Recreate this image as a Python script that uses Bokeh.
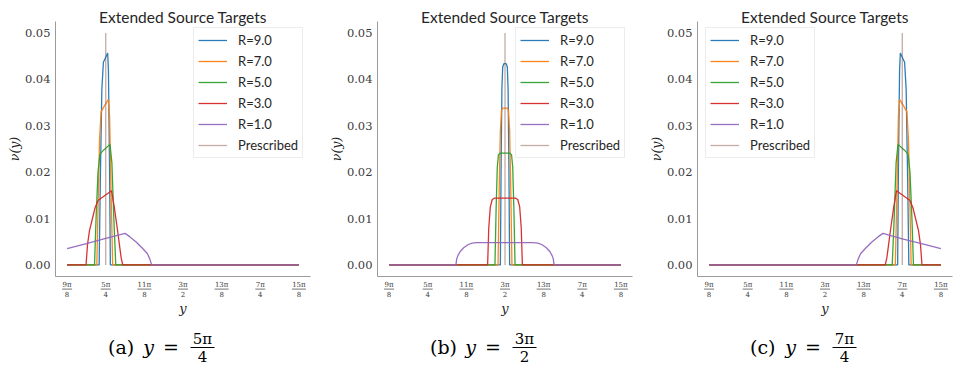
import math
from bokeh.plotting import figure
from bokeh.models import Range1d
from bokeh.layouts import row
from bokeh.embed import file_html
from bokeh.resources import INLINE
from bokeh.core.properties import value

# ---------------- data (x in units of pi/8) ----------------
tick_vals = [9, 10, 11, 12, 13, 14, 15]
tick_nums = ["9π", "5π", "11π", "3π", "13π", "7π", "15π"]
tick_dens = ["8", "4", "8", "2", "8", "4", "8"]
y_ticks = [0.0, 0.01, 0.02, 0.03, 0.04, 0.05]
y_tick_labels = ["0.00", "0.01", "0.02", "0.03", "0.04", "0.05"]

series_names = ["R=9.0", "R=7.0", "R=5.0", "R=3.0", "R=1.0", "Prescribed"]
series_colors = ["#1f77b4", "#ff7f0e", "#2ca02c", "#d62728", "#9467bd", "#8c564b"]

# panel (a): target 5pi/4
a_r9_x = [9.0, 9.83, 9.86, 9.90, 9.94, 10.05, 10.07, 10.10, 10.12, 15.0]
a_r9_y = [0, 0, 0.018, 0.038, 0.0437, 0.0457, 0.042, 0.02, 0, 0]
a_r7_x = [9.0, 9.77, 9.80, 9.84, 9.88, 9.98, 10.07, 10.10, 10.14, 10.18, 15.0]
a_r7_y = [0, 0, 0.012, 0.027, 0.033, 0.0345, 0.0357, 0.032, 0.015, 0, 0]
a_r5_x = [9.0, 9.71, 9.75, 9.80, 9.85, 9.95, 10.11, 10.16, 10.21, 10.26, 15.0]
a_r5_y = [0, 0, 0.010, 0.020, 0.0239, 0.0248, 0.026, 0.022, 0.010, 0, 0]
a_r3_x = [9.0, 9.49, 9.53, 9.58, 9.65, 9.72, 9.80, 10.15, 10.22, 10.30, 10.36, 10.40, 10.44, 15.0]
a_r3_y = [0, 0, 0.0045, 0.0074, 0.0098, 0.0122, 0.0139, 0.0160, 0.0125, 0.0078, 0.0040, 0.0015, 0, 0]
a_r1_x = [9.0, 9.5, 10.0, 10.5, 10.62, 10.78, 10.95, 11.08, 11.14, 11.17, 11.19, 15.0]
a_r1_y = [0.0035, 0.0046, 0.0057, 0.0068, 0.0061, 0.0050, 0.0036, 0.0024, 0.0013, 0.0005, 0, 0]
a_pr_x = [10.0, 10.0]
a_pr_y = [0.0, 0.05]

# panel (b): target 3pi/2
b_r9_x = [9.0, 11.88, 11.90, 11.92, 11.94, 11.97, 12.03, 12.06, 12.08, 12.10, 12.12, 15.0]
b_r9_y = [0, 0, 0.022, 0.038, 0.0427, 0.0434, 0.0434, 0.0427, 0.038, 0.022, 0, 0]
b_r7_x = [9.0, 11.82, 11.85, 11.88, 11.91, 11.94, 12.06, 12.09, 12.12, 12.15, 12.18, 15.0]
b_r7_y = [0, 0, 0.016, 0.029, 0.0333, 0.0338, 0.0338, 0.0333, 0.029, 0.016, 0, 0]
b_r5_x = [9.0, 11.74, 11.77, 11.80, 11.83, 11.87, 12.13, 12.17, 12.20, 12.23, 12.26, 15.0]
b_r5_y = [0, 0, 0.012, 0.021, 0.0237, 0.0241, 0.0241, 0.0237, 0.021, 0.012, 0, 0]
b_r3_x = [9.0, 11.55, 11.58, 11.62, 11.67, 11.73, 12.27, 12.33, 12.38, 12.42, 12.45, 15.0]
b_r3_y = [0, 0, 0.008, 0.0125, 0.0141, 0.0144, 0.0144, 0.0141, 0.0125, 0.008, 0, 0]
b_r1_x = [9.0, 10.73, 10.75, 10.78, 10.84, 10.93, 11.05, 11.15, 11.27,
          12.73, 12.85, 12.95, 13.07, 13.16, 13.22, 13.25, 13.27, 15.0]
b_r1_y = [0, 0, 0.0013, 0.0020, 0.0029, 0.0037, 0.0044, 0.0047, 0.0048,
          0.0048, 0.0047, 0.0044, 0.0037, 0.0029, 0.0020, 0.0013, 0, 0]
b_pr_x = [12.0, 12.0]
b_pr_y = [0.0, 0.05]

# panel (c): target 7pi/4
c_r9_x = [9.0, 13.88, 13.90, 13.93, 13.95, 14.06, 14.10, 14.14, 14.17, 15.0]
c_r9_y = [0, 0, 0.02, 0.042, 0.0457, 0.0437, 0.038, 0.018, 0, 0]
c_r7_x = [9.0, 13.82, 13.86, 13.90, 13.93, 14.02, 14.12, 14.16, 14.20, 14.23, 15.0]
c_r7_y = [0, 0, 0.015, 0.032, 0.0357, 0.0345, 0.033, 0.027, 0.012, 0, 0]
c_r5_x = [9.0, 13.74, 13.79, 13.84, 13.89, 14.05, 14.15, 14.20, 14.25, 14.29, 15.0]
c_r5_y = [0, 0, 0.010, 0.022, 0.026, 0.0248, 0.0239, 0.020, 0.010, 0, 0]
c_r3_x = [9.0, 13.56, 13.60, 13.64, 13.70, 13.78, 13.85, 14.20, 14.28, 14.35, 14.42, 14.47, 14.51, 15.0]
c_r3_y = [0, 0, 0.0015, 0.0040, 0.0078, 0.0125, 0.0160, 0.0139, 0.0122, 0.0098, 0.0074, 0.0045, 0, 0]
c_r1_x = [9.0, 12.81, 12.83, 12.86, 12.92, 13.05, 13.22, 13.38, 13.5, 14.0, 14.5, 15.0]
c_r1_y = [0, 0, 0.0005, 0.0013, 0.0024, 0.0036, 0.0050, 0.0061, 0.0068, 0.0056, 0.0046, 0.0035]
c_pr_x = [14.0, 14.0]
c_pr_y = [0.0, 0.05]

panels = [
    dict(letter="(a)", cap_num="5π", cap_den="4", legend_left=193, width=322,
         curves=[(a_r9_x, a_r9_y), (a_r7_x, a_r7_y), (a_r5_x, a_r5_y),
                 (a_r3_x, a_r3_y), (a_r1_x, a_r1_y), (a_pr_x, a_pr_y)]),
    dict(letter="(b)", cap_num="3π", cap_den="2", legend_left=193, width=320,
         curves=[(b_r9_x, b_r9_y), (b_r7_x, b_r7_y), (b_r5_x, b_r5_y),
                 (b_r3_x, b_r3_y), (b_r1_x, b_r1_y), (b_pr_x, b_pr_y)]),
    dict(letter="(c)", cap_num="7π", cap_den="4", legend_left=63, width=311,
         curves=[(c_r9_x, c_r9_y), (c_r7_x, c_r7_y), (c_r5_x, c_r5_y),
                 (c_r3_x, c_r3_y), (c_r1_x, c_r1_y), (c_pr_x, c_pr_y)]),
]

# axes box (data limits with 5% margins) and its pixel placement in each canvas
X0, X1 = 8.7, 15.3
Y0, Y1 = -0.0025, 0.0525
H = 366
BOX_L, BOX_T, BOX_B, BOX_W = 55, 21, 276, 255

SERIF = "DejaVu Serif"
SANS = "Lato"
TXT = "#262626"
TICK = "#3a3a3a"
SPINE = "#9a9a9a"


def make_panel(cfg):
    W = cfg["width"]
    ppx = BOX_W / (X1 - X0)
    ppy = (BOX_B - BOX_T) / (Y1 - Y0)
    xr = Range1d(X0 - BOX_L / ppx, X0 + (W - BOX_L) / ppx)
    yr = Range1d(Y0 - (H - BOX_B) / ppy, Y1 + BOX_T / ppy)

    def dx(px):
        return xr.start + px / ppx

    def dy(py):
        return yr.end - py / ppy

    p = figure(width=W, height=H, x_range=xr, y_range=yr,
               x_axis_type=None, y_axis_type=None,
               output_backend="svg", toolbar_location=None,
               min_border=0, outline_line_color=None)

    # spines (left and bottom of the axes box)
    p.line([X0, X0], [Y0, Y1], line_color=SPINE, line_width=1)
    p.line([X0, X1], [Y0, Y0], line_color=SPINE, line_width=1)

    # data
    for (xs, ys), name, col in zip(cfg["curves"], series_names, series_colors):
        alpha = 0.5 if name == "Prescribed" else 0.95
        p.line(xs, ys, line_color=col, line_width=1.3, line_alpha=alpha,
               legend_label=name)

    lg = p.legend[0]
    lg.location = (cfg["legend_left"], H - 28 - 130)
    lg.padding = 4
    lg.spacing = 5
    lg.glyph_height = 16
    lg.glyph_width = 29
    lg.label_height = 16
    lg.label_standoff = 11
    lg.label_text_font = SANS
    lg.label_text_font_size = "13px"
    lg.label_text_color = TXT
    lg.border_line_color = "#d9d9d9"
    lg.border_line_width = 1
    lg.background_fill_alpha = 0.85

    # y tick labels
    p.text(x=[dx(BOX_L - 5)] * len(y_ticks), y=y_ticks, text=y_tick_labels,
           text_align="right", text_baseline="middle",
           text_font=value(SERIF), text_font_size="11.5px", text_color=TICK)
    # y-axis label
    p.text(x=[dx(13.5)], y=[(Y0 + Y1) / 2], text=["ν(y)"], angle=math.pi / 2,
           text_align="center", text_baseline="middle",
           text_font=value(SERIF), text_font_style="italic",
           text_font_size="12.5px", text_color=TXT)
    # title
    p.text(x=[(X0 + X1) / 2], y=[dy(16.7)], text=["Extended Source Targets"],
           text_align="center", text_baseline="alphabetic",
           text_font=value(SANS), text_font_size="15.5px", text_color=TXT)
    # x tick labels as stacked fractions
    n = len(tick_vals)
    p.text(x=tick_vals, y=[dy(284.4)] * n, text=tick_nums,
           text_align="center", text_baseline="middle",
           text_font=value(SERIF), text_font_size="7px", text_color=TICK)
    p.text(x=tick_vals, y=[dy(293.9)] * n, text=tick_dens,
           text_align="center", text_baseline="middle",
           text_font=value(SERIF), text_font_size="7px", text_color=TICK)
    hw = [(5.0 if len(s) == 2 else 7.0) / ppx for s in tick_nums]
    p.segment(x0=[v - h for v, h in zip(tick_vals, hw)], y0=[dy(288.6)] * n,
              x1=[v + h for v, h in zip(tick_vals, hw)], y1=[dy(288.6)] * n,
              line_color=TICK, line_width=0.7)
    # x-axis label
    p.text(x=[(X0 + X1) / 2], y=[dy(307.5)], text=["y"],
           text_align="center", text_baseline="middle",
           text_font=value(SERIF), text_font_style="italic",
           text_font_size="13px", text_color=TXT)
    # caption
    cy = dy(346.5)
    p.text(x=[dx(107.5)], y=[cy], text=[cfg["letter"]], text_align="left",
           text_baseline="middle", text_font=value(SERIF),
           text_font_size="19px", text_color="#000000")
    p.text(x=[dx(148)], y=[cy], text=["y"], text_align="center",
           text_baseline="middle", text_font=value(SERIF), text_font_style="italic",
           text_font_size="19px", text_color="#000000")
    p.text(x=[dx(170.5)], y=[cy], text=["="], text_align="center",
           text_baseline="middle", text_font=value(SERIF),
           text_font_size="19px", text_color="#000000")
    p.text(x=[dx(202)], y=[dy(338.5)], text=[cfg["cap_num"]], text_align="center",
           text_baseline="middle", text_font=value(SERIF),
           text_font_size="15px", text_color="#000000")
    p.text(x=[dx(202)], y=[dy(355.5)], text=[cfg["cap_den"]], text_align="center",
           text_baseline="middle", text_font=value(SERIF),
           text_font_size="15px", text_color="#000000")
    p.segment(x0=[dx(190)], y0=[dy(347)], x1=[dx(214)], y1=[dy(347)],
              line_color="#000000", line_width=1)
    return p


figs = [make_panel(c) for c in panels]
layout = row(*figs)
open("out.html", "w").write(file_html(layout, INLINE))
